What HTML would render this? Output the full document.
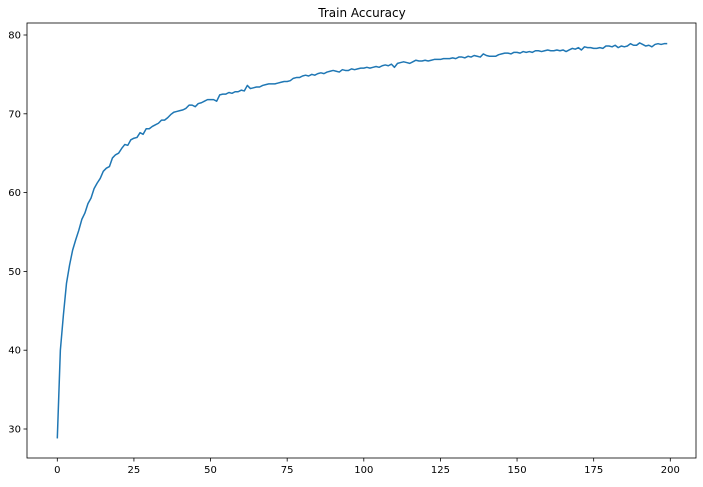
<!DOCTYPE html>
<html><head><meta charset="utf-8"><style>
body{margin:0;background:#fff;}
svg text{font-family:"DejaVu Sans","Liberation Sans",sans-serif;font-size:10px;fill:#000;}
</style></head><body>
<svg id="chart" width="703" height="482" xmlns="http://www.w3.org/2000/svg">
<text x="362" y="17" text-anchor="middle" style="font-size:12px">Train Accuracy</text>
<g id="plot"></g>
</svg>
<script>
const xTicks=[0,25,50,75,100,125,150,175,200];
const yTicks=[30,40,50,60,70,80];
const accuracy=[28.8,40,44.5,48.5,50.8,52.7,54,55.2,56.6,57.4,58.6,59.3,60.5,61.2,61.8,62.7,63.1,63.3,64.4,64.8,
65,65.6,66.1,66,66.7,66.9,67,67.6,67.4,68.1,68.1,68.4,68.6,68.8,69.2,69.2,69.5,69.9,70.2,70.3,
70.4,70.5,70.7,71.1,71.1,70.9,71.3,71.4,71.6,71.8,71.8,71.8,71.6,72.4,72.5,72.5,72.7,72.6,72.8,72.8,
73,72.9,73.6,73.2,73.3,73.4,73.4,73.6,73.7,73.8,73.8,73.8,73.9,74,74.1,74.1,74.2,74.5,74.6,74.6,
74.8,74.9,74.8,75,74.9,75.1,75.2,75.1,75.3,75.4,75.5,75.4,75.3,75.6,75.5,75.5,75.7,75.6,75.7,75.8,
75.8,75.9,75.8,75.9,76,75.9,76.1,76.2,76.1,76.3,75.9,76.4,76.5,76.6,76.5,76.4,76.6,76.8,76.7,76.7,
76.8,76.7,76.8,76.9,76.9,76.9,77,77,77,77.1,77,77.2,77.2,77.1,77.3,77.2,77.4,77.3,77.2,77.6,
77.4,77.3,77.3,77.3,77.5,77.6,77.7,77.7,77.6,77.8,77.8,77.7,77.9,77.8,77.9,77.8,78,78,77.9,78,
78.1,78,78,78.1,78,78.1,77.9,78.1,78.3,78.2,78.4,78.1,78.5,78.4,78.4,78.3,78.3,78.4,78.3,78.6,
78.6,78.5,78.7,78.4,78.6,78.5,78.6,78.9,78.7,78.7,79,78.8,78.6,78.7,78.5,78.8,78.9,78.8,78.9,78.9];

const L=27,R=696,T=23,B=458;
function xs(v){return 57.3+v*3.065;}
function ys(v){return 35+(80-v)*7.88;}
const ns="http://www.w3.org/2000/svg";
const g=document.getElementById('plot');
function mk(t,a){const e=document.createElementNS(ns,t);for(const k in a)e.setAttribute(k,a[k]);g.appendChild(e);return e;}

const frame=mk('rect',{x:L,y:T,width:R-L,height:B-T,fill:'none',stroke:'#000','stroke-width':0.8});



xTicks.forEach(v=>{
  const t=mk('line',{x1:xs(v),x2:xs(v),y1:B,y2:B+3.5,stroke:'#000','stroke-width':0.8});
  
  
  const l=mk('text',{x:xs(v),y:B+15,'text-anchor':'middle'});
  l.textContent=v;
  
  
});
yTicks.forEach(v=>{
  const t=mk('line',{x1:L-3.5,x2:L,y1:ys(v),y2:ys(v),stroke:'#000','stroke-width':0.8});
  
  
  const l=mk('text',{x:L-6,y:ys(v)+3.5,'text-anchor':'end'});
  l.textContent=v;
  
  
});

const d=accuracy.map((v,i)=>(i?'L':'M')+xs(i).toFixed(2)+','+ys(v).toFixed(2)).join(' ');
const line=mk('path',{d:d,fill:'none',stroke:'#1f77b4','stroke-width':1.5,'stroke-linejoin':'round'});


</script>
</body></html>
